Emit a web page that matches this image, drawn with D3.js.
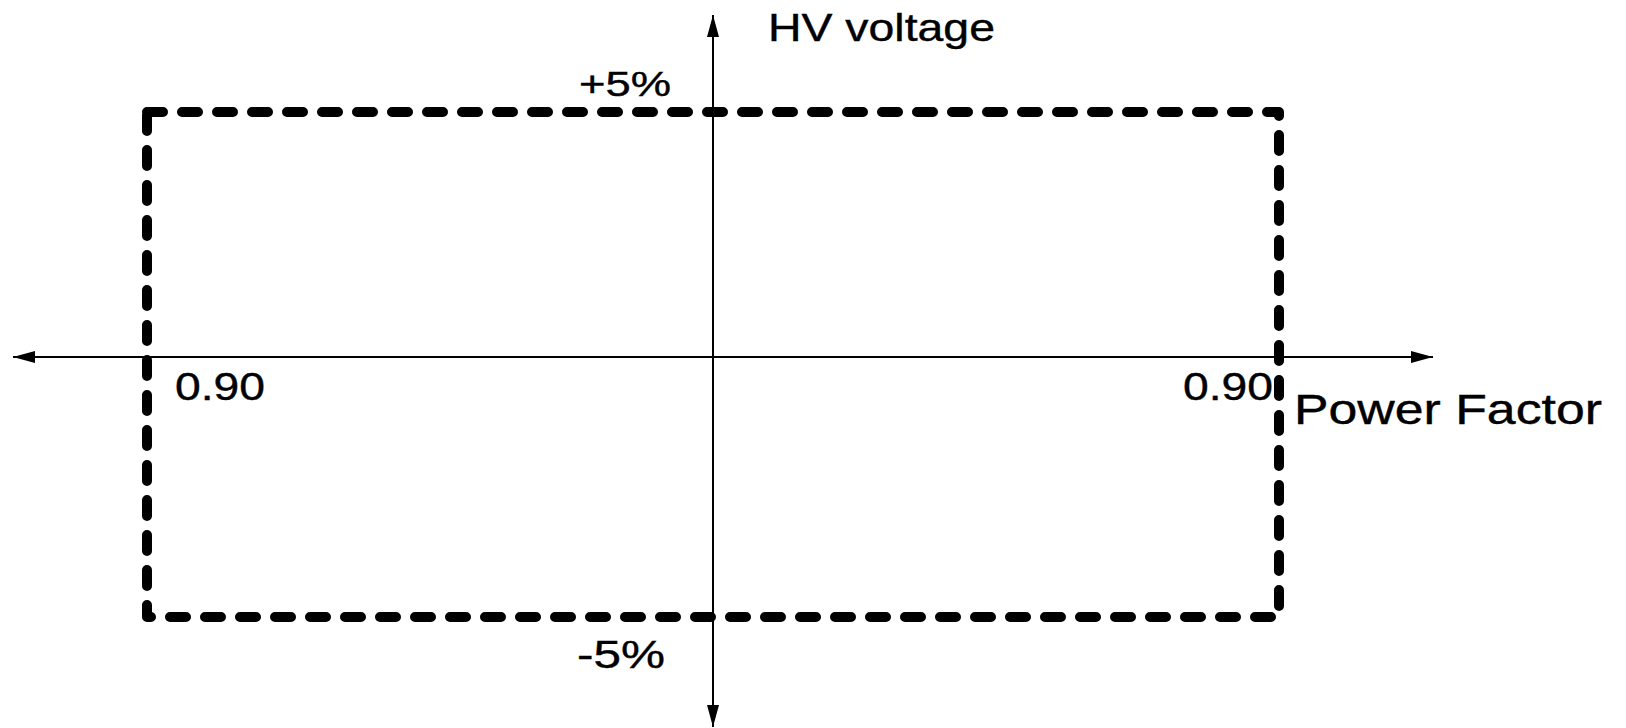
<!DOCTYPE html>
<html>
<head>
<meta charset="utf-8">
<script src="https://cdn.jsdelivr.net/npm/d3@7"></script>
<style>
  body { margin: 0; background: #fff; }
  text { font-family: "Liberation Sans", Arial, sans-serif; fill: #000; stroke: #000; stroke-width: 0.4px; }
</style>
</head>
<body>
<div id="chart"></div>
<script>
// operating window: power factor limits (leading / lagging) and HV voltage band
const pfPositions = [-1, 1];          // -1 = 0.90 leading, 1 = 0.90 lagging
const pfLabels = ["0.90", "0.90"];
const voltageLimits = [-5, 5];        // percent
const voltageLabels = ["-5%", "+5%"];
const axisTitles = { x: "Power Factor", y: "HV voltage" };

const width = 1626, height = 728;

const svg = d3.select("#chart").append("svg")
    .attr("width", width)
    .attr("height", height);

const xScale = d3.scaleLinear()
    .domain([-1, 0, 1])
    .range([147, 713, 1279]);

const yScale = d3.scaleLinear()
    .domain([-5, 0, 5])
    .range([617, 357, 112]);

// arrow heads
const defs = svg.append("defs");
defs.append("marker")
    .attr("id", "arrow")
    .attr("viewBox", "0 0 22 12")
    .attr("refX", 22)
    .attr("refY", 6)
    .attr("markerWidth", 22)
    .attr("markerHeight", 12)
    .attr("markerUnits", "userSpaceOnUse")
    .attr("orient", "auto-start-reverse")
  .append("path")
    .attr("d", "M0,0 L22,6 L0,12 Z")
    .attr("fill", "#000");

const x0 = xScale(0), y0 = yScale(0);

// horizontal axis (double arrow)
svg.append("line")
    .attr("x1", 13).attr("y1", y0)
    .attr("x2", 1433).attr("y2", y0)
    .attr("stroke", "#000")
    .attr("stroke-width", 2)
    .attr("marker-start", "url(#arrow)")
    .attr("marker-end", "url(#arrow)");

// vertical axis (double arrow)
svg.append("line")
    .attr("x1", x0).attr("y1", 727)
    .attr("x2", x0).attr("y2", 15)
    .attr("stroke", "#000")
    .attr("stroke-width", 2)
    .attr("marker-start", "url(#arrow)")
    .attr("marker-end", "url(#arrow)");

// dashed operating window
const corners = [
    [pfPositions[0], voltageLimits[1]],
    [pfPositions[1], voltageLimits[1]],
    [pfPositions[1], voltageLimits[0]],
    [pfPositions[0], voltageLimits[0]]
];
const line = d3.line()
    .x(d => xScale(d[0]))
    .y(d => yScale(d[1]))
    .curve(d3.curveLinearClosed);

svg.append("path")
    .attr("d", line(corners))
    .attr("fill", "none")
    .attr("stroke", "#000")
    .attr("stroke-width", 10)
    .attr("stroke-linecap", "round")
    .attr("stroke-linejoin", "round")
    .attr("stroke-dasharray", "16,19");

// labels (the source font is slightly stretched horizontally)
function label(txt, x, y, size, len) {
    svg.append("text")
        .attr("x", x)
        .attr("y", y)
        .attr("font-size", size)
        .attr("textLength", len)
        .attr("lengthAdjust", "spacingAndGlyphs")
        .text(txt);
}

label(axisTitles.y, x0 + 55, 41, 39, 227);
label(axisTitles.x, xScale(1) + 15, 424, 43, 308);

label(voltageLabels[1], x0 - 134, 96, 35, 92);
label(voltageLabels[0], x0 - 136, 668, 39, 88);

label(pfLabels[0], xScale(pfPositions[0]) + 28, 400, 38, 90);
label(pfLabels[1], xScale(pfPositions[1]) - 96, 400, 38, 90);
</script>
</body>
</html>
